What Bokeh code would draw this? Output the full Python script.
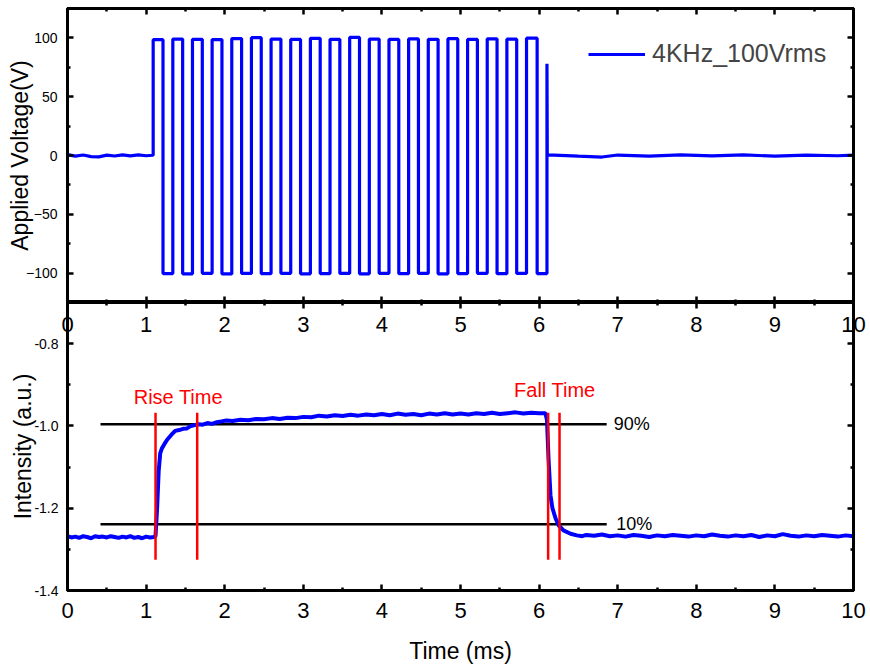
from bokeh.plotting import figure
from bokeh.layouts import column
from bokeh.models import (Range1d, LinearAxis, FixedTicker, Label, Legend, LegendItem)
from bokeh.embed import file_html
from bokeh.resources import INLINE

FONT = "Liberation Sans"

# ---------------- data ----------------
x_ticks = [0, 1, 2, 3, 4, 5, 6, 7, 8, 9, 10]
x_minor = [0.5, 1.5, 2.5, 3.5, 4.5, 5.5, 6.5, 7.5, 8.5, 9.5]
volt_ticks = [-100, -50, 0, 50, 100]
volt_minor = [-125, -75, -25, 25, 75, 125]
int_ticks = [-1.4, -1.2, -1.0, -0.8]
int_minor = [-1.3, -1.1, -0.9, -0.7]
int_tick_labels = ["-1.4", "-1.2", "-1.0", "-0.8"]

# applied voltage: square wave, edges in ms
rise_edges = [1.09, 1.34, 1.59, 1.84, 2.09, 2.34, 2.59, 2.84, 3.09, 3.34,
              3.59, 3.84, 4.09, 4.34, 4.59, 4.84, 5.09, 5.34, 5.59, 5.84]
fall_edges = [1.215, 1.465, 1.715, 1.965, 2.215, 2.465, 2.715, 2.965, 3.215, 3.465,
              3.715, 3.965, 4.215, 4.465, 4.715, 4.965, 5.215, 5.465, 5.715, 5.975]
high_levels = [98.5, 99.0, 98.8, 98.6, 99.4, 100.2, 99.0, 98.7, 99.6, 98.8,
               100.4, 99.0, 98.7, 99.1, 98.8, 99.3, 98.7, 99.2, 98.9, 99.8]
low_levels = [-100.4, -100.6, -100.2, -100.7, -100.3, -100.5, -100.2, -100.6, -100.4, -100.3,
              -100.6, -100.2, -100.5, -100.3, -100.6, -100.4, -100.2, -100.5, -100.3, -100.4]
last_edge_t = 6.10
last_edge_peak = 78.0
pre_t = [0.0, 0.1, 0.2, 0.3, 0.4, 0.5, 0.6, 0.7, 0.8, 0.9, 1.0, 1.09]
pre_v = [0.8, -0.5, 0.4, -0.9, -1.2, 0.3, -0.4, 0.6, -0.3, 0.5, -0.2, 0.2]
post_t = [6.11, 6.5, 6.8, 7.0, 7.4, 7.8, 8.2, 8.6, 9.0, 9.4, 9.8, 10.0]
post_v = [0.5, -0.6, -1.3, 0.4, -0.5, 0.6, -0.4, 0.5, -0.6, 0.3, -0.2, 0.4]

# optical intensity response
int_t = [0.00, 0.05, 0.10, 0.15, 0.20, 0.25, 0.30, 0.35, 0.40, 0.45, 0.50, 0.55,
         0.60, 0.65, 0.70, 0.75, 0.80, 0.85, 0.90, 0.95, 1.00, 1.05, 1.10, 1.12,
         1.14, 1.16, 1.18, 1.20, 1.23, 1.27, 1.32, 1.37, 1.42, 1.47, 1.52, 1.57,
         1.62, 1.67, 1.72, 1.78, 1.84, 1.90, 1.96, 2.02, 2.10, 2.20, 2.30, 2.40,
         2.50, 2.60, 2.70, 2.80, 2.90, 3.00, 3.10, 3.20, 3.30, 3.40, 3.50, 3.60,
         3.70, 3.80, 3.90, 4.00, 4.10, 4.20, 4.30, 4.40, 4.50, 4.60, 4.70, 4.80,
         4.90, 5.00, 5.10, 5.20, 5.30, 5.40, 5.50, 5.60, 5.70, 5.80, 5.90, 6.00,
         6.08, 6.10, 6.12, 6.145, 6.17, 6.21, 6.25, 6.31, 6.40, 6.48, 6.55, 6.60,
         6.70, 6.80, 6.90, 7.00, 7.10, 7.20, 7.30, 7.40, 7.50, 7.60, 7.70, 7.80,
         7.90, 8.00, 8.10, 8.20, 8.30, 8.40, 8.50, 8.60, 8.70, 8.80, 8.90, 9.00,
         9.10, 9.20, 9.30, 9.40, 9.50, 9.60, 9.70, 9.80, 9.90, 10.00]
int_v = [-1.268, -1.271, -1.269, -1.272, -1.268, -1.270, -1.273, -1.268, -1.270, -1.269, -1.271, -1.268,
         -1.270, -1.272, -1.269, -1.271, -1.268, -1.272, -1.270, -1.273, -1.269, -1.271, -1.270, -1.268,
         -1.200, -1.110, -1.066, -1.055, -1.045, -1.033, -1.022, -1.012, -1.010, -1.007, -1.006, -1.000,
         -0.998, -0.996, -0.997, -0.993, -0.995, -0.991, -0.989, -0.987, -0.988, -0.985, -0.986, -0.983,
         -0.984, -0.981, -0.983, -0.980, -0.981, -0.978, -0.979, -0.975, -0.977, -0.974, -0.976, -0.973,
         -0.975, -0.972, -0.974, -0.971, -0.974, -0.970, -0.973, -0.971, -0.974, -0.970, -0.972, -0.969,
         -0.972, -0.970, -0.972, -0.969, -0.971, -0.968, -0.971, -0.969, -0.967, -0.970, -0.968, -0.969,
         -0.969, -0.985, -1.080, -1.169, -1.200, -1.225, -1.242, -1.254, -1.262, -1.266, -1.268, -1.265,
         -1.267, -1.264, -1.268, -1.266, -1.269, -1.265, -1.267, -1.270, -1.266, -1.268, -1.265, -1.267,
         -1.269, -1.266, -1.268, -1.264, -1.267, -1.269, -1.266, -1.268, -1.265, -1.270, -1.266, -1.268,
         -1.263, -1.267, -1.269, -1.266, -1.268, -1.265, -1.267, -1.269, -1.266, -1.268]

level_names = ["90%", "10%"]
level_values = [-0.996, -1.239]
level_start = 0.42
level_end = 6.86
rise_marks = [1.12, 1.65]
fall_marks = [6.115, 6.26]
mark_low = -1.325
mark_high = -0.968
legend_label = "4KHz_100Vrms"

# ---------------- build voltage trace ----------------
vt = list(pre_t)
vv = list(pre_v)
for k in range(len(rise_edges)):
    prev = vv[-1]
    vt += [rise_edges[k], rise_edges[k], fall_edges[k], fall_edges[k]]
    vv += [prev, high_levels[k], high_levels[k], low_levels[k]]
vt += [last_edge_t, last_edge_t, last_edge_t + 0.004]
vv += [low_levels[-1], last_edge_peak, 0.0]
vt += post_t
vv += post_v

BLUE = "#0000FF"
RED = "#FF0000"


def axis(ticks, minor, show=False, size="14px", standoff=10, tin=6, tout=0,
         mtin=3, mtout=0, overrides=None, label=None, label_standoff=0):
    ax = LinearAxis(ticker=FixedTicker(ticks=ticks, minor_ticks=minor),
                    axis_line_width=3, axis_line_color="black",
                    major_tick_in=tin, major_tick_out=tout,
                    minor_tick_in=mtin, minor_tick_out=mtout,
                    major_tick_line_width=2.5, minor_tick_line_width=2.5,
                    major_label_text_font=FONT,
                    major_label_text_font_size=size if show else "0px",
                    major_label_text_color="black" if show else None,
                    major_label_standoff=standoff if show else 0)
    if overrides:
        ax.major_label_overrides = overrides
    if label:
        ax.axis_label = label
        ax.axis_label_text_font = FONT
        ax.axis_label_text_font_size = "23px"
        ax.axis_label_text_font_style = "normal"
        ax.axis_label_text_color = "black"
        ax.axis_label_standoff = label_standoff
    return ax


def base(height, y_range, top, bottom):
    f = figure(width=870, height=height, x_range=Range1d(0, 10), y_range=y_range,
               x_axis_type=None, y_axis_type=None, output_backend="svg",
               toolbar_location=None, min_border_left=67, min_border_right=17,
               min_border_top=top, min_border_bottom=bottom)
    f.outline_line_color = "black"
    f.outline_line_width = 3
    f.background_fill_color = "white"
    f.border_fill_color = "white"
    return f


# ---------------- top panel: applied voltage ----------------
top = base(302, Range1d(-125, 125), 8, 0)
top.add_layout(axis(volt_ticks, volt_minor, show=True, size="14px", standoff=10,
                    label="Applied Voltage(V)", label_standoff=-10), "left")
top.add_layout(axis(volt_ticks, volt_minor), "right")
top.add_layout(axis(x_ticks, x_minor), "above")
top.add_layout(axis(x_ticks, x_minor), "below")

vline = top.line(vt, vv, line_color=BLUE, line_width=3.2)
legend = Legend(items=[LegendItem(label=legend_label, renderers=[vline])],
                location=(521, 234), glyph_width=57, glyph_height=20, label_standoff=7,
                padding=0, margin=0, border_line_color=None, background_fill_alpha=0,
                label_text_font=FONT, label_text_font_size="25px", label_height=20)
top.add_layout(legend)

# ---------------- bottom panel: intensity ----------------
bot = base(364, Range1d(-1.4, -0.7), 0, 76)
bot.add_layout(axis(int_ticks, int_minor, show=True, size="14px", standoff=9,
                    overrides={t: s for t, s in zip(int_ticks, int_tick_labels)},
                    label="Intensity (a.u.)", label_standoff=-5), "left")
bot.add_layout(axis(int_ticks, int_minor), "right")
# shared edge: ticks pointing down, and the time labels of the voltage panel
# pulled just under the edge
bot.add_layout(axis(x_ticks, x_minor, show=True, size="22px", standoff=-29), "above")
bot.add_layout(axis(x_ticks, x_minor, show=True, size="22px", standoff=12,
                    label="Time (ms)", label_standoff=17), "below")

bot.segment(x0=[level_start] * 2, y0=level_values, x1=[level_end] * 2, y1=level_values,
            line_color="black", line_width=2.5)
bot.line(int_t, int_v, line_color=BLUE, line_width=4)
marks = rise_marks + fall_marks
bot.segment(x0=marks, y0=[mark_low] * 4, x1=marks, y1=[mark_high] * 4,
            line_color=RED, line_width=2.5)

bot.add_layout(Label(x=1.41, y=-0.929, text="Rise Time", text_align="center",
                     text_baseline="middle", text_font=FONT, text_font_size="20px",
                     text_color=RED))
bot.add_layout(Label(x=6.2, y=-0.913, text="Fall Time", text_align="center",
                     text_baseline="middle", text_font=FONT, text_font_size="20px",
                     text_color=RED))
for name, lv, dx in zip(level_names, level_values, [6.95, 6.98]):
    bot.add_layout(Label(x=dx, y=lv, text=name, text_align="left", text_baseline="middle",
                         text_font=FONT, text_font_size="18px", text_color="black"))

layout = column(top, bot, spacing=0)
open("out.html", "w").write(file_html(layout, INLINE))
